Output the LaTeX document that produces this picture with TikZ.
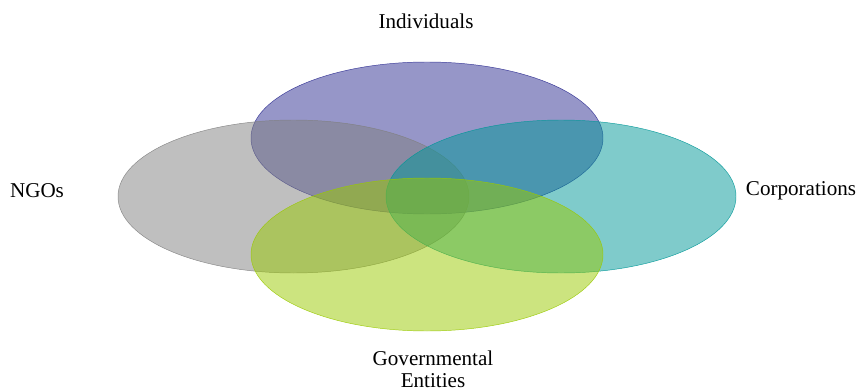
\documentclass[tikz,border=0pt]{standalone}
\usepackage{fontspec}
\setmainfont{Liberation Serif}
\usepackage{tikz}
\usetikzlibrary{calc,shapes}

\definecolor{indiv}{RGB}{45,45,145}
\definecolor{ngo}{RGB}{128,128,128}
\definecolor{corp}{RGB}{0,151,151}
\definecolor{gov}{RGB}{153,201,0}

\begin{document}
\begin{tikzpicture}[x=0.03cm,y=-0.03cm,thin,
  set/.style={fill opacity=0.5,draw opacity=0.9},
  lbl/.style={font=\fontsize{18}{19}\selectfont,align=center}]
  \useasboundingbox (0,0) rectangle (858,391);

  \begin{scope}
  \coordinate (ci) at (427,138);
  \coordinate (cn) at (293.5,196.5);
  \coordinate (cc) at (561,196.5);
  \coordinate (cg) at (427,254.5);
  \draw[set,draw=indiv,fill=indiv] (ci) ellipse (176 and 76);
  \draw[set,draw=ngo,fill=ngo] (cn) ellipse (175.5 and 76.5);
  \draw[set,draw=corp,fill=corp] (cc) ellipse (175 and 76.5);
  \draw[set,draw=gov,fill=gov] (cg) ellipse (176 and 76.5);
  \end{scope}

  \begin{scope}
  \node[lbl] (individuals) at (426,21) {Individuals};
  \node[lbl] (ngos) at (37,191) {NGOs};
  \node[lbl] (corporations) at (801,191) {Corporations};
  \node[lbl] (government) at (433,369) {Governmental\\Entities};
  \end{scope}
\end{tikzpicture}
\end{document}
